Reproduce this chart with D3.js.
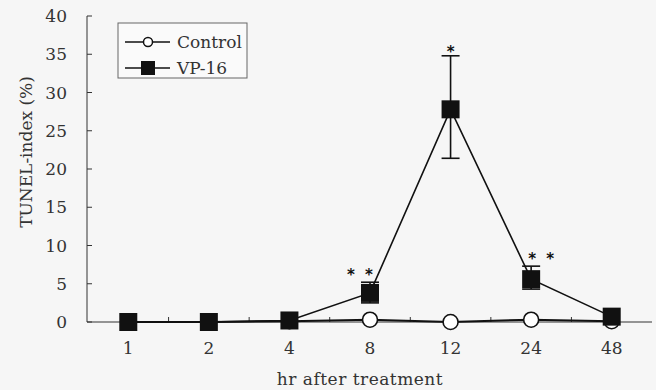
<!DOCTYPE html>
<html><head><meta charset="utf-8">
<script src="https://cdn.jsdelivr.net/npm/d3@7/dist/d3.min.js"></script>
<style>body{margin:0;background:#f6f6f6;}svg{display:block;}</style>
</head><body>
<svg id="c" width="656" height="390"></svg>
<script>
const categories = ["1","2","4","8","12","24","48"];
const controlValues = [0, 0, 0.1, 0.3, 0, 0.3, 0.1];
const vp16Values = [0, 0, 0.2, 3.8, 27.8, 5.6, 0.7];
const vp16ErrUpper = [null, null, null, 5.2, 34.8, 7.3, null];
const vp16ErrLower = [null, null, null, 2.5, 21.4, 4.3, null];
const asteriskCounts = [0, 0, 0, 2, 1, 2, 0];
const yTicks = [0, 5, 10, 15, 20, 25, 30, 35, 40];

const svg = d3.select("#c");
const font = "'DejaVu Serif', 'Liberation Serif', serif";
const fs = 17;
const x = d3.scaleBand().domain(categories).range([88, 652]);
const y = d3.scaleLinear().domain([0, 40]).range([322, 16]);
const cx = c => x(c) + x.bandwidth() / 2;

// axes
svg.append("line").attr("x1", 87).attr("x2", 87).attr("y1", y(40)).attr("y2", y(0)).attr("stroke", "#333").attr("stroke-width", 1);
svg.append("line").attr("x1", 87).attr("x2", 652).attr("y1", y(0)).attr("y2", y(0)).attr("stroke", "#333").attr("stroke-width", 1);
yTicks.forEach(t => {
  svg.append("line").attr("x1", 87).attr("x2", 92).attr("y1", y(t)).attr("y2", y(t)).attr("stroke", "#333");
  svg.append("text").attr("x", 67).attr("y", y(t)).attr("dy", "0.36em").attr("text-anchor", "end")
    .attr("font-family", font).attr("font-size", fs).attr("fill", "#333").text(t);
});
categories.slice(1).forEach(c => {
  svg.append("line").attr("x1", x(c)).attr("x2", x(c)).attr("y1", y(0)).attr("y2", y(0) - 5).attr("stroke", "#333");
});
categories.forEach(c => {
  svg.append("text").attr("x", cx(c)).attr("y", 354).attr("text-anchor", "middle")
    .attr("font-family", font).attr("font-size", fs).attr("fill", "#333").text(c);
});
svg.append("text").attr("x", 360).attr("y", 385).attr("text-anchor", "middle")
  .attr("font-family", font).attr("font-size", fs).attr("fill", "#333").attr("letter-spacing", 0.5).text("hr after treatment");
svg.append("text").attr("transform", "translate(32,152) rotate(-90)").attr("text-anchor", "middle")
  .attr("font-family", font).attr("font-size", fs).attr("fill", "#333").text("TUNEL-index (%)");

const line = d3.line().x((d, i) => cx(categories[i])).y(d => y(d));
svg.append("path").attr("d", line(controlValues)).attr("fill", "none").attr("stroke", "#111").attr("stroke-width", 2);
svg.append("path").attr("d", line(vp16Values)).attr("fill", "none").attr("stroke", "#111").attr("stroke-width", 1.6);

categories.forEach((c, i) => {
  svg.append("circle").attr("cx", cx(c)).attr("cy", y(controlValues[i])).attr("r", 7.5)
    .attr("fill", "#fff").attr("stroke", "#111").attr("stroke-width", 1.6);
});
categories.forEach((c, i) => {
  if (vp16ErrUpper[i] == null) return;
  const xc = cx(c);
  svg.append("line").attr("x1", xc).attr("x2", xc).attr("y1", y(vp16ErrUpper[i])).attr("y2", y(vp16ErrLower[i])).attr("stroke", "#111").attr("stroke-width", 1.6);
  [vp16ErrUpper[i], vp16ErrLower[i]].forEach(v => {
    svg.append("line").attr("x1", xc - 9).attr("x2", xc + 9).attr("y1", y(v)).attr("y2", y(v)).attr("stroke", "#111").attr("stroke-width", 1.6);
  });
});
categories.forEach((c, i) => {
  svg.append("rect").attr("x", cx(c) - 9).attr("y", y(vp16Values[i]) - 9).attr("width", 18).attr("height", 18).attr("fill", "#111");
});
// asterisks
categories.forEach((c, i) => {
  const n = asteriskCounts[i];
  if (!n) return;
  const top = vp16ErrUpper[i] != null ? y(vp16ErrUpper[i]) : y(vp16Values[i]) - 9;
  const offs = n === 1 ? [0] : (i > 4 ? [1, 19] : [-19, -1]);
  offs.forEach(o => {
    svg.append("text").attr("x", cx(c) + o).attr("y", top + (n === 1 ? 1 : -2))
      .attr("text-anchor", "middle").attr("font-family", "'DejaVu Sans', sans-serif").attr("font-size", 15).attr("font-weight", "bold").attr("fill", "#111").text("*");
  });
});

// legend
svg.append("rect").attr("x", 118).attr("y", 23).attr("width", 129).attr("height", 55).attr("fill", "#fafafa").attr("stroke", "#666");
[["Control", 42, "circle"], ["VP-16", 68, "rect"]].forEach(([lab, ly, t]) => {
  svg.append("line").attr("x1", 125).attr("x2", 170).attr("y1", ly).attr("y2", ly).attr("stroke", "#111").attr("stroke-width", 1.6);
  if (t === "circle") svg.append("circle").attr("cx", 148).attr("cy", ly).attr("r", 4.5).attr("fill", "#fff").attr("stroke", "#111").attr("stroke-width", 1.5);
  else svg.append("rect").attr("x", 141).attr("y", ly - 7).attr("width", 14).attr("height", 14).attr("fill", "#111");
  svg.append("text").attr("x", 177).attr("y", ly).attr("dy", "0.36em").attr("font-family", font).attr("font-size", fs).attr("fill", "#333").text(lab);
});
</script>
</body></html>
